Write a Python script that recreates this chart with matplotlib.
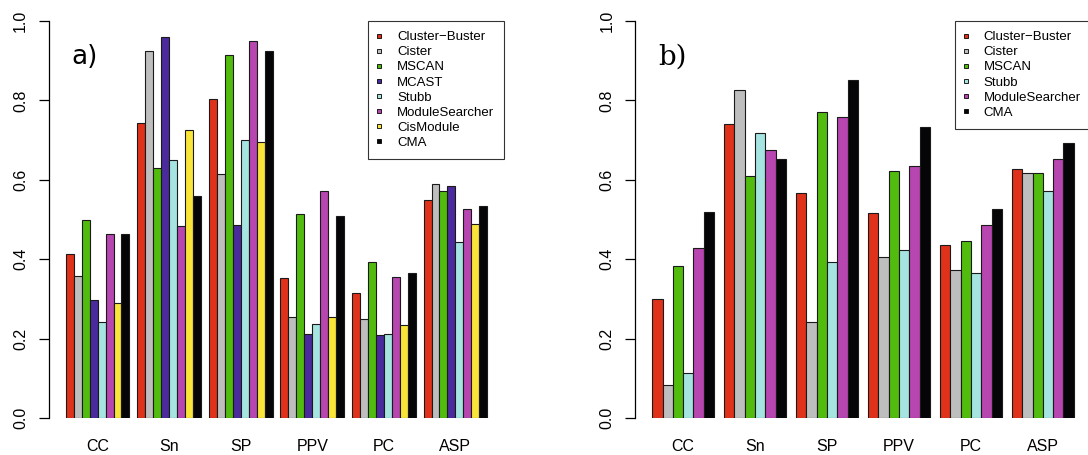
import matplotlib
matplotlib.use("Agg")
import matplotlib.pyplot as plt
from matplotlib.lines import Line2D

plt.rcParams['font.family'] = ['Liberation Sans', 'DejaVu Sans']

# data
groups = ["CC", "Sn", "SP", "PPV", "PC", "ASP"]

tools_a = ["Cluster\u2212Buster", "Cister", "MSCAN", "MCAST", "Stubb",
           "ModuleSearcher", "CisModule", "CMA"]
colors_a = ["#E0321A", "#BEBEBE", "#52BC0E", "#4A2A9C", "#A6E4E2",
            "#B746B0", "#F9E43A", "#050508"]
# one row per tool, one value per group
values_a = [
    [0.412, 0.744, 0.804, 0.353, 0.314, 0.548],  # Cluster-Buster
    [0.357, 0.924, 0.614, 0.255, 0.250, 0.589],  # Cister
    [0.499, 0.629, 0.914, 0.513, 0.394, 0.571],  # MSCAN
    [0.296, 0.959, 0.485, 0.212, 0.209, 0.584],  # MCAST
    [0.243, 0.651, 0.699, 0.238, 0.211, 0.443],  # Stubb
    [0.463, 0.484, 0.949, 0.571, 0.355, 0.526],  # ModuleSearcher
    [0.290, 0.725, 0.696, 0.254, 0.233, 0.489],  # CisModule
    [0.463, 0.560, 0.924, 0.508, 0.364, 0.534],  # CMA
]

tools_b = ["Cluster\u2212Buster", "Cister", "MSCAN", "Stubb",
           "ModuleSearcher", "CMA"]
colors_b = ["#E0321A", "#BEBEBE", "#52BC0E", "#A6E4E2", "#B746B0", "#050508"]
values_b = [
    [0.301, 0.740, 0.568, 0.516, 0.437, 0.627],  # Cluster-Buster
    [0.082, 0.827, 0.243, 0.405, 0.374, 0.616],  # Cister
    [0.382, 0.610, 0.770, 0.622, 0.445, 0.616],  # MSCAN
    [0.113, 0.718, 0.392, 0.424, 0.364, 0.571],  # Stubb
    [0.427, 0.674, 0.757, 0.634, 0.485, 0.653],  # ModuleSearcher
    [0.518, 0.652, 0.851, 0.733, 0.526, 0.693],  # CMA
]

yticks = [0.0, 0.2, 0.4, 0.6, 0.8, 1.0]

W, H = 1088, 455
fig = plt.figure(figsize=(W / 100, H / 100), dpi=100)


def panel(left_px, right_px, tools, colors, values, tag, tag_x, tag_font, tag_size):
    ax = fig.add_axes([left_px / W, (H - 418) / H,
                       (right_px - left_px) / W, (418 - 21) / H])
    n = len(tools)
    period = n + 1
    for i, (name, col, vals) in enumerate(zip(tools, colors, values)):
        xs = [1 + g * period + i for g in range(len(groups))]
        ax.bar(xs, vals, width=1, align='edge', color=col,
               edgecolor='#1a1a1a', linewidth=0.8, label=name)
    span = len(groups) * period - 1
    ext = 0.04 * span
    ax.set_xlim(1 - ext, 1 + span + ext)
    ax.set_ylim(0, 1)

    for s in ['top', 'right', 'bottom']:
        ax.spines[s].set_visible(False)
    ax.spines['left'].set_linewidth(0.9)

    ax.set_yticks(yticks)
    ax.set_yticklabels([f"{t:.1f}" for t in yticks], rotation=90, va='center')
    ax.tick_params(axis='y', length=7.2, width=0.9, pad=8, labelsize=11.5)

    centers = [1 + g * period + n / 2 for g in range(len(groups))]
    ax.set_xticks(centers)
    ax.set_xticklabels(groups)
    ax.tick_params(axis='x', length=0, pad=15, labelsize=11.5)

    ax.text(tag_x, 0.91, tag, fontsize=tag_size, family=tag_font,
            ha='left', va='center')

    handles = [Line2D([], [], linestyle='none', marker='s', markersize=3.2,
                      markerfacecolor=c, markeredgecolor='black',
                      markeredgewidth=0.6) for c in colors]
    leg = ax.legend(handles, tools, loc='upper right', fontsize=9.5,
                    frameon=True, fancybox=False, edgecolor='black',
                    borderaxespad=0, borderpad=0.75, handlelength=0.25,
                    handletextpad=1.2, labelspacing=0.22)
    leg.get_frame().set_linewidth(0.8)
    return ax


panel(49, 504, tools_a, colors_a, values_a, "a)", 1.75,
      ['DejaVu Sans'], 19)
panel(635.4, 1090.6, tools_b, colors_b, values_b, "b)", 1.55,
      ['DejaVu Serif'], 20)

fig.savefig("out.png", dpi=100)
